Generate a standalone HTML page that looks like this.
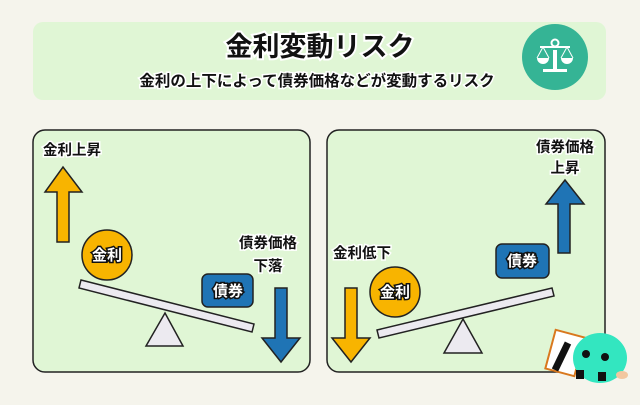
<!DOCTYPE html>
<html><head><meta charset="utf-8"><style>
body{margin:0;width:640px;height:400px;background:#f5f4ec;overflow:hidden;font-family:"Liberation Sans","Noto Sans CJK JP",sans-serif;}
</style></head><body>
<svg width="640" height="400" xmlns="http://www.w3.org/2000/svg" style="font-family:'Liberation Sans','Noto Sans CJK JP',sans-serif;font-weight:bold">
<rect x="33" y="22" width="573" height="78" rx="10" fill="#e0f6d5"/>
<text x="320" y="56" font-size="27" text-anchor="middle" fill="#111" stroke="#fff" stroke-width="4" paint-order="stroke">金利変動リスク</text>
<text x="317" y="86" font-size="15.5" text-anchor="middle" fill="#111" stroke="#fff" stroke-width="3" paint-order="stroke">金利の上下によって債券価格などが変動するリスク</text>
<circle cx="555" cy="57" r="33" fill="#35b495"/>
<g fill="#fff" stroke="#fff">
<circle cx="555" cy="43" r="3.5" fill="none" stroke-width="2"/>
<line x1="540" y1="47" x2="570" y2="47" stroke-width="2"/>
<rect x="553" y="50" width="4" height="20" stroke="none"/>
<rect x="543" y="69" width="24" height="3" stroke="none"/>
<path d="M537 58 h12 a6 6 0 0 1 -12 0z" stroke="none"/>
<path d="M561 58 h12 a6 6 0 0 1 -12 0z" stroke="none"/>
<line x1="543" y1="47" x2="537" y2="58" stroke-width="1"/><line x1="543" y1="47" x2="549" y2="58" stroke-width="1"/>
<line x1="567" y1="47" x2="561" y2="58" stroke-width="1"/><line x1="567" y1="47" x2="573" y2="58" stroke-width="1"/>
</g>
<rect x="33" y="130" width="277" height="242" rx="12" fill="#e0f6d5" stroke="#222" stroke-width="1.5"/>
<rect x="327" y="130" width="278" height="242" rx="12" fill="#e0f6d5" stroke="#222" stroke-width="1.5"/>
<g font-size="14.5" fill="#111" stroke="#fff" stroke-width="3" paint-order="stroke">
<text x="43" y="155">金利上昇</text>
<text x="268" y="248" text-anchor="middle">債券価格</text>
<text x="268" y="271" text-anchor="middle">下落</text>
<text x="333" y="258">金利低下</text>
<text x="565" y="152" text-anchor="middle">債券価格</text>
<text x="565" y="173" text-anchor="middle">上昇</text>
</g>
<g stroke="#222" stroke-width="1.5">
<polygon points="57,242 69,242 69,192 82,192 63,167 45,192 57,192" fill="#f8b400"/>
<polygon points="275,288 287,288 287,338 300,338 281,362 262,338 275,338" fill="#1f74b5"/>
<polygon points="345,288 357,288 357,338 370,338 351,362 332,338 345,338" fill="#f8b400"/>
<polygon points="558,253 570,253 570,204 584,204 565,180 546,204 558,204" fill="#1f74b5"/>
<polygon points="165,313 183,346 146,346" fill="#eceaf0"/>
<polygon points="463,319 482,353 444,353" fill="#eceaf0"/>
<polygon points="81,280 254,324 252,332 79,288" fill="#eceaf0"/>
<polygon points="377,330 552,288 554,296 379,338" fill="#eceaf0"/>
<circle cx="107" cy="255" r="25" fill="#f8b400"/>
<circle cx="395" cy="292" r="25" fill="#f8b400"/>
<rect x="202" y="274" width="51" height="33" rx="6" fill="#1f74b5"/>
<rect x="496" y="244" width="53" height="34" rx="6" fill="#1f74b5"/>
</g>
<g font-size="15" text-anchor="middle" fill="#fff" stroke="#111" stroke-width="3" paint-order="stroke">
<text x="107" y="260">金利</text>
<text x="395" y="297">金利</text>
<text x="228" y="296">債券</text>
<text x="522" y="266">債券</text>
</g>
<g>
<rect x="550" y="333" width="30" height="40" fill="#fff" stroke="#d9781e" stroke-width="2" transform="rotate(15 565 353)"/>
<line x1="568" y1="343" x2="555" y2="370" stroke="#111" stroke-width="7"/>
<ellipse cx="600" cy="358" rx="27" ry="25" fill="#33e6c0"/>
<circle cx="586" cy="354" r="4" fill="#111"/><circle cx="605" cy="357" r="4" fill="#111"/>
<rect x="576" y="370" width="8" height="9" fill="#111"/><rect x="598" y="372" width="8" height="9" fill="#111"/>
<ellipse cx="622" cy="375" rx="6" ry="4" fill="#f2c7a0"/>
</g>
</svg>
</body></html>
